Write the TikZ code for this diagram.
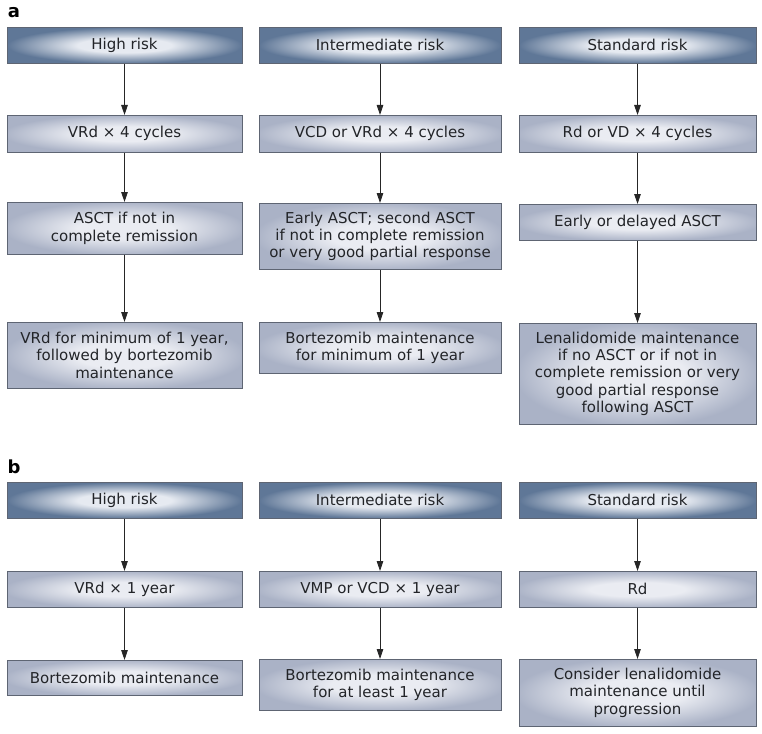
\documentclass[tikz,border=0pt]{standalone}
\usepackage{fontspec}
\setmainfont{DejaVu Sans}
\usetikzlibrary{arrows.meta}
\definecolor{hdrin}{HTML}{E6EAF1}
\definecolor{hdrout}{HTML}{5F7797}
\definecolor{boxin}{HTML}{EAECF2}
\definecolor{boxout}{HTML}{AAB2C6}
\definecolor{bordercol}{HTML}{5E6573}
\definecolor{txt}{HTML}{222428}
\pgfdeclareradialshading{hdrshade}{\pgfpoint{0bp}{0bp}}{color(0bp)=(hdrin); color(10bp)=(hdrin); color(25bp)=(hdrout); color(50bp)=(hdrout)}
\pgfdeclareradialshading{boxshade}{\pgfpoint{0bp}{0bp}}{color(0bp)=(boxin); color(10bp)=(boxin); color(26bp)=(boxout); color(50bp)=(boxout)}
\tikzset{
  base/.style={draw=bordercol, line width=0.6pt, anchor=north, inner sep=0pt, align=center,
    text=txt, font=\fontsize{15}{17.3}\selectfont},
  hdr/.style={base, shading=hdrshade},
  stepbox/.style={base, shading=boxshade},
  arr/.style={draw=black!85, line width=0.8pt, -{Stealth[length=10pt,width=6.5pt,inset=0pt]}},
  lbl/.style={font=\bfseries\fontsize{18}{18}\selectfont, inner sep=0pt}
}
\begin{document}
\begin{tikzpicture}[x=1pt,y=-1pt]
\useasboundingbox (0,0) rectangle (762,733);
% column geometry
\def\ca{124.5}\def\wa{235pt}
\def\cb{380}\def\wb{242pt}
\def\cc{637.5}\def\wc{237pt}
% labels
\node[lbl, anchor=center] (la) at (14,13) {a};
\node[lbl, anchor=center] (lb) at (14,467) {b};
% ---------- part a ----------
\node[hdr, minimum width=\wa, minimum height=36pt] (a11) at (\ca,27) {High risk};
\node[hdr, minimum width=\wb, minimum height=36pt] (a21) at (\cb,27) {Intermediate risk};
\node[hdr, minimum width=\wc, minimum height=36pt] (a31) at (\cc,27) {Standard risk};
\node[stepbox, minimum width=\wa, minimum height=37pt] (a12) at (\ca,115) {VRd × 4 cycles};
\node[stepbox, minimum width=\wb, minimum height=37pt] (a22) at (\cb,115) {VCD or VRd × 4 cycles};
\node[stepbox, minimum width=\wc, minimum height=37pt] (a32) at (\cc,115) {Rd or VD × 4 cycles};
\node[stepbox, minimum width=\wa, minimum height=52pt] (a13) at (\ca,202) {ASCT if not in\\complete remission};
\node[stepbox, minimum width=\wb, minimum height=66pt] (a23) at (\cb,203) {Early ASCT; second ASCT\\if not in complete remission\\or very good partial response};
\node[stepbox, minimum width=\wc, minimum height=36pt] (a33) at (\cc,204) {Early or delayed ASCT};
\node[stepbox, minimum width=\wa, minimum height=66pt] (a14) at (\ca,322) {VRd for minimum of 1 year,\\followed by bortezomib\\maintenance};
\node[stepbox, minimum width=\wb, minimum height=51pt] (a24) at (\cb,322) {Bortezomib maintenance\\for minimum of 1 year};
\node[stepbox, minimum width=\wc, minimum height=101pt] (a34) at (\cc,323) {Lenalidomide maintenance\\if no ASCT or if not in\\complete remission or very\\good partial response\\following ASCT};
\draw[arr] (a11) -- (a12);
\draw[arr] (a12) -- (a13);
\draw[arr] (a13) -- (a14);
\draw[arr] (a21) -- (a22);
\draw[arr] (a22) -- (a23);
\draw[arr] (a23) -- (a24);
\draw[arr] (a31) -- (a32);
\draw[arr] (a32) -- (a33);
\draw[arr] (a33) -- (a34);
% ---------- part b ----------
\node[hdr, minimum width=\wa, minimum height=36pt] (b11) at (\ca,482) {High risk};
\node[hdr, minimum width=\wb, minimum height=36pt] (b21) at (\cb,482) {Intermediate risk};
\node[hdr, minimum width=\wc, minimum height=36pt] (b31) at (\cc,482) {Standard risk};
\node[stepbox, minimum width=\wa, minimum height=36pt] (b12) at (\ca,571) {VRd × 1 year};
\node[stepbox, minimum width=\wb, minimum height=36pt] (b22) at (\cb,571) {VMP or VCD × 1 year};
\node[stepbox, minimum width=\wc, minimum height=36pt] (b32) at (\cc,571) {Rd};
\node[stepbox, minimum width=\wa, minimum height=35pt] (b13) at (\ca,660) {Bortezomib maintenance};
\node[stepbox, minimum width=\wb, minimum height=51pt] (b23) at (\cb,659) {Bortezomib maintenance\\for at least 1 year};
\node[stepbox, minimum width=\wc, minimum height=67pt] (b33) at (\cc,659) {Consider lenalidomide\\maintenance until\\progression};
\draw[arr] (b11) -- (b12);
\draw[arr] (b12) -- (b13);
\draw[arr] (b21) -- (b22);
\draw[arr] (b22) -- (b23);
\draw[arr] (b31) -- (b32);
\draw[arr] (b32) -- (b33);
\end{tikzpicture}
\end{document}
